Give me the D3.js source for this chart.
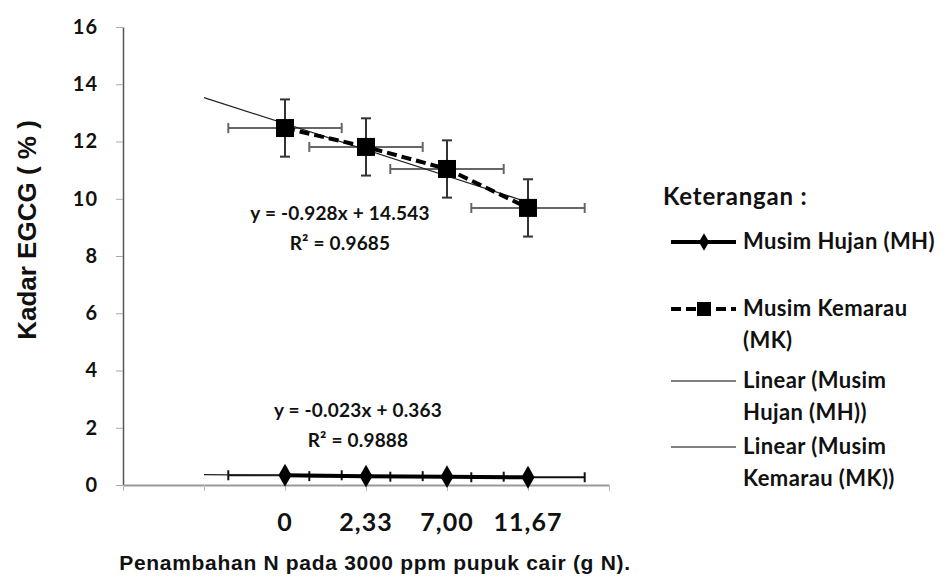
<!DOCTYPE html>
<html>
<head>
<meta charset="utf-8">
<script src="https://cdn.jsdelivr.net/npm/d3@7"></script>
<style>
  body { margin: 0; background: #fff; }
  text { font-family: Lato, "Open Sans", sans-serif; font-weight: bold; fill: #111; }
</style>
</head>
<body>
<script>
// data
const categories = ["0", "2,33", "7,00", "11,67"];
const mhValues = [0.34, 0.31, 0.29, 0.27];
const mkValues = [12.47, 11.81, 11.04, 9.68];
const mhErrY = [0.04, 0.04, 0.04, 0.04];
const mkErrY = [1.0, 1.0, 1.0, 1.0];
const errX = [0.7, 0.7, 0.7, 0.7]; // in category widths
const yTicks = [0, 2, 4, 6, 8, 10, 12, 14, 16];
const mhEquation = ["y = -0.023x + 0.363", "R² = 0.9888"];
const mkEquation = ["y = -0.928x + 14.543", "R² = 0.9685"];
const legendTitle = "Keterangan :";
const legendItems = [
  ["Musim Hujan (MH)"],
  ["Musim Kemarau", "(MK)"],
  ["Linear (Musim", "Hujan (MH))"],
  ["Linear (Musim", "Kemarau (MK))"]
];

const width = 947, height = 577;

const svg = d3.select("body").append("svg")
  .attr("width", width)
  .attr("height", height);

// category slots: points sit at 2..5 on a 0..6 axis
const x = d3.scaleLinear().domain([0, 6]).range([123, 609]);
const y = d3.scaleLinear().domain([0, 16]).range([485, 27]);
const pos = i => i + 2;

// axes
const yAxis = svg.append("g")
  .attr("transform", "translate(123,0)")
  .call(d3.axisLeft(y).tickValues(yTicks).tickSize(7).tickSizeOuter(0).tickPadding(18));
yAxis.select(".domain").attr("stroke", "#555").attr("stroke-width", 1.5);
yAxis.selectAll(".tick line").attr("stroke", "#aaa");
yAxis.selectAll(".tick text").style("font-size", "20px").style("letter-spacing", "1px")
  .attr("fill", "#111");

const xAxis = svg.append("g")
  .attr("transform", "translate(0,485)")
  .call(d3.axisBottom(x).tickValues([0, 1, 2, 3, 4, 5, 6]).tickSize(6).tickSizeOuter(0).tickFormat(""));
xAxis.select(".domain").attr("stroke", "#999").attr("stroke-width", 2);
xAxis.selectAll(".tick line").attr("stroke", "#bbb");

svg.append("g").selectAll("text")
  .data(categories)
  .join("text")
  .attr("x", (d, i) => x(pos(i)))
  .attr("y", 531)
  .attr("text-anchor", "middle")
  .style("font-size", "25px")
  .style("letter-spacing", "1px")
  .text(d => d);

// axis titles
svg.append("text")
  .attr("transform", "translate(36,230) rotate(-90)")
  .attr("text-anchor", "middle")
  .style("font-family", "'Liberation Sans', Arial, sans-serif")
  .style("font-size", "26px")
  .text("Kadar EGCG ( % )");

svg.append("text")
  .attr("x", 375)
  .attr("y", 570)
  .attr("text-anchor", "middle")
  .style("font-family", "'Liberation Sans', Arial, sans-serif")
  .style("font-size", "21px")
  .style("letter-spacing", "0.7px")
  .text("Penambahan N pada 3000 ppm pupuk cair (g N).");

// least squares trend, drawn one period back to the last point
function trend(vals) {
  const xs = vals.map((v, i) => i + 1);
  const mx = d3.mean(xs), my = d3.mean(vals);
  const b = d3.sum(xs, (xv, i) => (xv - mx) * (vals[i] - my)) / d3.sum(xs, xv => (xv - mx) ** 2);
  const a = my - b * mx;
  return [[0, a], [4, a + b * 4]];
}

const line = d3.line().x(d => x(d[0])).y(d => y(d[1]));

function errorBars(vals, ey, hColor, vColor, hw) {
  const g = svg.append("g");
  vals.forEach((v, i) => {
    const cx = x(pos(i)), cy = y(v);
    const x0 = x(pos(i) - errX[i]), x1 = x(pos(i) + errX[i]);
    g.append("line").attr("x1", x0).attr("x2", x1).attr("y1", cy).attr("y2", cy)
      .attr("stroke", hColor).attr("stroke-width", hw);
    [x0, x1].forEach(xx => g.append("line").attr("x1", xx).attr("x2", xx)
      .attr("y1", cy - 5).attr("y2", cy + 5).attr("stroke", hColor).attr("stroke-width", 2));
    const y0 = y(v + ey[i]), y1 = y(v - ey[i]);
    g.append("line").attr("x1", cx).attr("x2", cx).attr("y1", y0).attr("y2", y1)
      .attr("stroke", vColor).attr("stroke-width", 2);
    [y0, y1].forEach(yy => g.append("line").attr("x1", cx - 5).attr("x2", cx + 5)
      .attr("y1", yy).attr("y2", yy).attr("stroke", vColor).attr("stroke-width", 2));
  });
}

// MH series
errorBars(mhValues, mhErrY, "#111", "#111", 2);
svg.append("path")
  .datum(trend(mhValues).map(d => [d[0] + 1, d[1]]))
  .attr("d", line).attr("fill", "none").attr("stroke", "#222").attr("stroke-width", 1.2);
svg.append("path")
  .datum(mhValues.map((v, i) => [pos(i), v]))
  .attr("d", line).attr("fill", "none").attr("stroke", "#000").attr("stroke-width", 4);
svg.append("g").selectAll("path")
  .data(mhValues)
  .join("path")
  .attr("transform", (d, i) => `translate(${x(pos(i))},${y(d)})`)
  .attr("d", d3.symbol(d3.symbolDiamond, 150))
  .attr("fill", "#000");

// MK series
errorBars(mkValues, mkErrY, "#666", "#333", 2);
svg.append("path")
  .datum(trend(mkValues).map(d => [d[0] + 1, d[1]]))
  .attr("d", line).attr("fill", "none").attr("stroke", "#222").attr("stroke-width", 1.2);
svg.append("path")
  .datum(mkValues.map((v, i) => [pos(i), v]))
  .attr("d", line).attr("fill", "none").attr("stroke", "#000").attr("stroke-width", 4)
  .attr("stroke-dasharray", "10,5");
svg.append("g").selectAll("rect")
  .data(mkValues)
  .join("rect")
  .attr("x", (d, i) => x(pos(i)) - 9)
  .attr("y", d => y(d) - 9)
  .attr("width", 18).attr("height", 18)
  .attr("fill", "#000");

// equations
function equation(lines, cx, cy) {
  svg.append("g").selectAll("text")
    .data(lines)
    .join("text")
    .attr("x", cx)
    .attr("y", (d, i) => cy + i * 30)
    .attr("text-anchor", "middle")
    .style("font-size", "19px")
    .style("letter-spacing", "0.2px")
    .text(d => d);
}
equation(mkEquation, 340, 220);
equation(mhEquation, 358, 417);

// legend
svg.append("text").attr("x", 663).attr("y", 205)
  .style("font-size", "24px").style("letter-spacing", "0.8px").text(legendTitle);

const legendY = [242, 309, 381, 447];
const lg = svg.append("g");
legendItems.forEach((item, k) => {
  const ly = legendY[k];
  const ln = lg.append("line").attr("x1", 671).attr("x2", 736).attr("y1", ly).attr("y2", ly)
    .attr("stroke", "#000");
  if (k === 0) {
    ln.attr("stroke-width", 4);
    lg.append("path").attr("transform", `translate(704,${ly})`)
      .attr("d", d3.symbol(d3.symbolDiamond, 90)).attr("fill", "#000");
  } else if (k === 1) {
    ln.attr("stroke-width", 4).attr("stroke-dasharray", "10,5");
    lg.append("rect").attr("x", 697).attr("y", ly - 7).attr("width", 14).attr("height", 14).attr("fill", "#000");
  } else {
    ln.attr("stroke-width", 1.2);
  }
  item.forEach((t, j) => {
    lg.append("text").attr("x", 743).attr("y", ly + 7 + j * 32)
      .style("font-size", "22px").style("letter-spacing", "0.4px").text(t);
  });
});
</script>
</body>
</html>
